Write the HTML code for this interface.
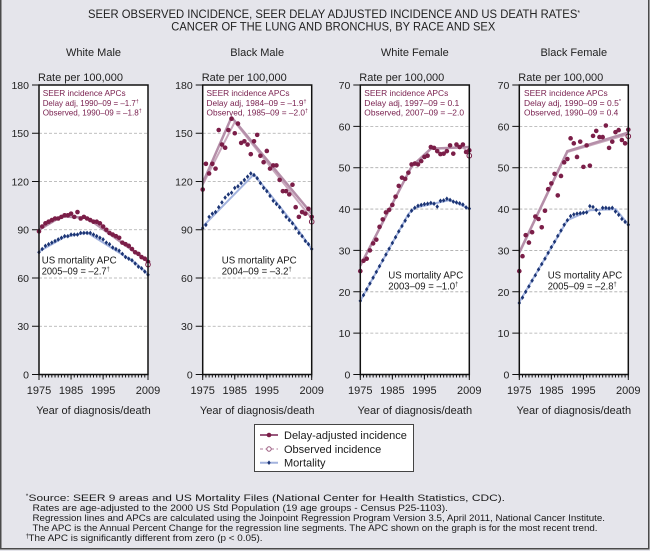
<!DOCTYPE html>
<html><head><meta charset="utf-8">
<style>
html,body{margin:0;padding:0;background:#e5e5eb;}
svg{display:block;font-family:"Liberation Sans",Arial,sans-serif;}
</style></head><body>
<svg width="650" height="551" viewBox="0 0 650 551" xmlns="http://www.w3.org/2000/svg" xmlns:xlink="http://www.w3.org/1999/xlink">
<defs>
 <ellipse id="dM" rx="0.72" ry="1.43" fill="#7b1e48"/>
 <ellipse id="dF" rx="0.72" ry="0.556" fill="#7b1e48"/>
 <polygon id="mM" points="0,1.43 0.55,0 0,-1.43 -0.55,0" fill="#1c3575"/>
 <polygon id="mF" points="0,0.556 0.55,0 0,-0.556 -0.55,0" fill="#1c3575"/>
</defs>
<rect width="650" height="551" fill="#e5e5eb"/>
<rect x="0.75" y="-5" width="648" height="553.75" fill="none" stroke="#4a4a4a" stroke-width="1.5"/>

<!-- Title -->
<g fill="#222" font-size="11.5">
<text x="88" y="18" textLength="492" lengthAdjust="spacingAndGlyphs">SEER OBSERVED INCIDENCE, SEER DELAY ADJUSTED INCIDENCE AND US DEATH RATES<tspan font-size="7" dy="-3">*</tspan></text>
<text x="171.3" y="30.5" textLength="324" lengthAdjust="spacingAndGlyphs">CANCER OF THE LUNG AND BRONCHUS, BY RACE AND SEX</text>
</g>

<!-- Panel titles and axis labels -->
<g fill="#222" font-size="11" text-anchor="middle">
<text x="93.5" y="56">White Male</text>
<text x="257.2" y="56">Black Male</text>
<text x="414.8" y="56">White Female</text>
<text x="573.8" y="56">Black Female</text>
<text x="93.5" y="414">Year of diagnosis/death</text>
<text x="257.2" y="414">Year of diagnosis/death</text>
<text x="414.8" y="414">Year of diagnosis/death</text>
<text x="573.8" y="414">Year of diagnosis/death</text>
</g>
<g fill="#222" font-size="11">
<text x="38" y="81" textLength="85" lengthAdjust="spacingAndGlyphs">Rate per 100,000</text>
<text x="201.7" y="81" textLength="85" lengthAdjust="spacingAndGlyphs">Rate per 100,000</text>
<text x="359.3" y="81" textLength="85" lengthAdjust="spacingAndGlyphs">Rate per 100,000</text>
<text x="518.3" y="81" textLength="85" lengthAdjust="spacingAndGlyphs">Rate per 100,000</text>
</g>

<!-- Plot boxes background -->
<g fill="#fff">
<rect x="39" y="85" width="109" height="289.5"/>
<rect x="202.7" y="85" width="109" height="289.5"/>
<rect x="360.3" y="85" width="109" height="289.5"/>
<rect x="519.3" y="85" width="109" height="289.5"/>
</g>

<!-- Gridlines -->
<g stroke="#ababab" stroke-width="0.8" stroke-dasharray="3,2">
<path d="M39 133.25H148 M39 181.5H148 M39 229.75H148 M39 278H148 M39 326.25H148"/>
<path d="M202.7 133.25H311.7 M202.7 181.5H311.7 M202.7 229.75H311.7 M202.7 278H311.7 M202.7 326.25H311.7"/>
<path d="M360.3 126.36H469.3 M360.3 167.71H469.3 M360.3 209.07H469.3 M360.3 250.43H469.3 M360.3 291.79H469.3 M360.3 333.14H469.3"/>
<path d="M519.3 126.36H628.3 M519.3 167.71H628.3 M519.3 209.07H628.3 M519.3 250.43H628.3 M519.3 291.79H628.3 M519.3 333.14H628.3"/>
</g>

<!-- Y ticks -->
<g stroke="#111" stroke-width="1">
<path d="M32 85H39M32 133.25H39M32 181.5H39M32 229.75H39M32 278H39M32 326.25H39M32 374.5H39"/>
<path d="M195.7 85H202.7M195.7 133.25H202.7M195.7 181.5H202.7M195.7 229.75H202.7M195.7 278H202.7M195.7 326.25H202.7M195.7 374.5H202.7"/>
<path d="M353.3 85H360.3M353.3 126.36H360.3M353.3 167.71H360.3M353.3 209.07H360.3M353.3 250.43H360.3M353.3 291.79H360.3M353.3 333.14H360.3M353.3 374.5H360.3"/>
<path d="M512.3 85H519.3M512.3 126.36H519.3M512.3 167.71H519.3M512.3 209.07H519.3M512.3 250.43H519.3M512.3 291.79H519.3M512.3 333.14H519.3M512.3 374.5H519.3"/>
</g>

<!-- Y tick labels -->
<g fill="#222" font-size="10.5" text-anchor="end">
<text x="29" y="89">180</text><text x="29" y="137.2">150</text><text x="29" y="185.5">120</text><text x="29" y="233.7">90</text><text x="29" y="282">60</text><text x="29" y="330.2">30</text><text x="29" y="378.5">0</text>
<text x="192.7" y="89">180</text><text x="192.7" y="137.2">150</text><text x="192.7" y="185.5">120</text><text x="192.7" y="233.7">90</text><text x="192.7" y="282">60</text><text x="192.7" y="330.2">30</text><text x="192.7" y="378.5">0</text>
<text x="350.3" y="89">70</text><text x="350.3" y="130.4">60</text><text x="350.3" y="171.7">50</text><text x="350.3" y="213">40</text><text x="350.3" y="254.4">30</text><text x="350.3" y="295.8">20</text><text x="350.3" y="337.1">10</text><text x="350.3" y="378.5">0</text>
<text x="509.3" y="89">70</text><text x="509.3" y="130.4">60</text><text x="509.3" y="171.7">50</text><text x="509.3" y="213">40</text><text x="509.3" y="254.4">30</text><text x="509.3" y="295.8">20</text><text x="509.3" y="337.1">10</text><text x="509.3" y="378.5">0</text>
</g>

<!-- X minor ticks -->
<g stroke="#111" stroke-width="3" stroke-dasharray="1 2.206">
<line x1="38.5" y1="376" x2="148.5" y2="376"/>
<line x1="202.2" y1="376" x2="312.2" y2="376"/>
<line x1="359.8" y1="376" x2="469.8" y2="376"/>
<line x1="518.8" y1="376" x2="628.8" y2="376"/>
</g>
<g stroke="#111" stroke-width="1">
<path d="M39 374.5V380M71.06 374.5V379.5M103.12 374.5V379.5M148 374.5V380"/>
<path d="M202.7 374.5V380M234.76 374.5V379.5M266.82 374.5V379.5M311.7 374.5V380"/>
<path d="M360.3 374.5V380M392.36 374.5V379.5M424.42 374.5V379.5M469.3 374.5V380"/>
<path d="M519.3 374.5V380M551.36 374.5V379.5M583.42 374.5V379.5M628.3 374.5V380"/>
</g>
<g fill="#222" font-size="11" text-anchor="middle">
<text x="39" y="394">1975</text><text x="71.06" y="394">1985</text><text x="103.12" y="394">1995</text><text x="148" y="394">2009</text>
<text x="202.7" y="394">1975</text><text x="234.76" y="394">1985</text><text x="266.82" y="394">1995</text><text x="311.7" y="394">2009</text>
<text x="360.3" y="394">1975</text><text x="392.36" y="394">1985</text><text x="424.42" y="394">1995</text><text x="469.3" y="394">2009</text>
<text x="519.3" y="394">1975</text><text x="551.36" y="394">1985</text><text x="583.42" y="394">1995</text><text x="628.3" y="394">2009</text>
</g>

<!-- ===== White Male data ===== -->
<g transform="translate(39,374.5) scale(3.206,-1.6083)">
<polyline points="0,76.5 8,85.5 15,88.3 30,69.5 34,62.3" fill="none" stroke="#a3b3de" stroke-width="2" vector-effect="non-scaling-stroke"/>
<use xlink:href="#mM" x="0" y="76"/><use xlink:href="#mM" x="1" y="78"/><use xlink:href="#mM" x="2" y="80"/><use xlink:href="#mM" x="3" y="81"/><use xlink:href="#mM" x="4" y="82"/><use xlink:href="#mM" x="5" y="83"/><use xlink:href="#mM" x="6" y="84"/><use xlink:href="#mM" x="7" y="85"/><use xlink:href="#mM" x="8" y="86"/><use xlink:href="#mM" x="9" y="86"/><use xlink:href="#mM" x="10" y="87"/><use xlink:href="#mM" x="11" y="87"/><use xlink:href="#mM" x="12" y="87"/><use xlink:href="#mM" x="13" y="88"/><use xlink:href="#mM" x="14" y="88"/><use xlink:href="#mM" x="15" y="88"/><use xlink:href="#mM" x="16" y="88"/><use xlink:href="#mM" x="17" y="87"/><use xlink:href="#mM" x="18" y="86"/><use xlink:href="#mM" x="19" y="85"/><use xlink:href="#mM" x="20" y="84"/><use xlink:href="#mM" x="21" y="82"/><use xlink:href="#mM" x="22" y="81"/><use xlink:href="#mM" x="23" y="79"/><use xlink:href="#mM" x="24" y="78"/><use xlink:href="#mM" x="25" y="77"/><use xlink:href="#mM" x="26" y="75"/><use xlink:href="#mM" x="27" y="73"/><use xlink:href="#mM" x="28" y="72"/><use xlink:href="#mM" x="29" y="71"/><use xlink:href="#mM" x="30" y="69"/><use xlink:href="#mM" x="31" y="67"/><use xlink:href="#mM" x="32" y="66"/><use xlink:href="#mM" x="33" y="64"/><use xlink:href="#mM" x="34" y="62"/>
<polyline points="0,90 7,98.3 15,97.5 34,70.3" fill="none" stroke="#b58fa9" stroke-width="2.5" vector-effect="non-scaling-stroke"/>
<use xlink:href="#dM" x="0" y="89"/><use xlink:href="#dM" x="1" y="92"/><use xlink:href="#dM" x="2" y="94"/><use xlink:href="#dM" x="3" y="95"/><use xlink:href="#dM" x="4" y="96"/><use xlink:href="#dM" x="5" y="97"/><use xlink:href="#dM" x="6" y="97"/><use xlink:href="#dM" x="7" y="98"/><use xlink:href="#dM" x="8" y="99"/><use xlink:href="#dM" x="9" y="99"/><use xlink:href="#dM" x="10" y="100"/><use xlink:href="#dM" x="11" y="98"/><use xlink:href="#dM" x="12" y="101"/><use xlink:href="#dM" x="13" y="97"/><use xlink:href="#dM" x="14" y="98"/><use xlink:href="#dM" x="15" y="97"/><use xlink:href="#dM" x="16" y="96"/><use xlink:href="#dM" x="17" y="95"/><use xlink:href="#dM" x="18" y="95"/><use xlink:href="#dM" x="19" y="94"/><use xlink:href="#dM" x="20" y="92"/><use xlink:href="#dM" x="21" y="90"/><use xlink:href="#dM" x="22" y="88"/><use xlink:href="#dM" x="23" y="87"/><use xlink:href="#dM" x="24" y="86"/><use xlink:href="#dM" x="25" y="85"/><use xlink:href="#dM" x="26" y="82"/><use xlink:href="#dM" x="27" y="81"/><use xlink:href="#dM" x="28" y="80"/><use xlink:href="#dM" x="29" y="78"/><use xlink:href="#dM" x="30" y="76"/><use xlink:href="#dM" x="31" y="75"/><use xlink:href="#dM" x="32" y="73"/><use xlink:href="#dM" x="33" y="72"/><use xlink:href="#dM" x="34" y="70"/>
<ellipse cx="34" cy="68.3" rx="0.72" ry="1.43" fill="#fff" stroke="#7b1e48" stroke-width="1" vector-effect="non-scaling-stroke"/>
</g>

<!-- ===== Black Male data ===== -->
<g transform="translate(202.7,374.5) scale(3.206,-1.6083)">
<polyline points="0,92 16,124.5 29,92 34,78" fill="none" stroke="#a3b3de" stroke-width="2" vector-effect="non-scaling-stroke"/>
<use xlink:href="#mM" x="0" y="91"/><use xlink:href="#mM" x="1" y="93"/><use xlink:href="#mM" x="2" y="98"/><use xlink:href="#mM" x="3" y="100"/><use xlink:href="#mM" x="4" y="101"/><use xlink:href="#mM" x="5" y="104"/><use xlink:href="#mM" x="6" y="107"/><use xlink:href="#mM" x="7" y="110"/><use xlink:href="#mM" x="8" y="112"/><use xlink:href="#mM" x="9" y="113"/><use xlink:href="#mM" x="10" y="116"/><use xlink:href="#mM" x="11" y="117"/><use xlink:href="#mM" x="12" y="119"/><use xlink:href="#mM" x="13" y="121"/><use xlink:href="#mM" x="14" y="123"/><use xlink:href="#mM" x="15" y="125"/><use xlink:href="#mM" x="16" y="124"/><use xlink:href="#mM" x="17" y="122"/><use xlink:href="#mM" x="18" y="119"/><use xlink:href="#mM" x="19" y="116"/><use xlink:href="#mM" x="20" y="114"/><use xlink:href="#mM" x="21" y="111"/><use xlink:href="#mM" x="22" y="108"/><use xlink:href="#mM" x="23" y="106"/><use xlink:href="#mM" x="24" y="104"/><use xlink:href="#mM" x="25" y="101"/><use xlink:href="#mM" x="26" y="98"/><use xlink:href="#mM" x="27" y="96"/><use xlink:href="#mM" x="28" y="94"/><use xlink:href="#mM" x="29" y="91"/><use xlink:href="#mM" x="30" y="88"/><use xlink:href="#mM" x="31" y="86"/><use xlink:href="#mM" x="32" y="83"/><use xlink:href="#mM" x="33" y="81"/><use xlink:href="#mM" x="34" y="78"/>
<polyline points="0,118 10,157 34,97" fill="none" stroke="#c9a9bd" stroke-width="2" vector-effect="non-scaling-stroke"/>
<polyline points="0,119 9,160 34,100" fill="none" stroke="#b58fa9" stroke-width="2.5" vector-effect="non-scaling-stroke"/>
<use xlink:href="#dM" x="0" y="115"/><use xlink:href="#dM" x="1" y="131"/><use xlink:href="#dM" x="2" y="125"/><use xlink:href="#dM" x="3" y="131"/><use xlink:href="#dM" x="4" y="128"/><use xlink:href="#dM" x="5" y="152"/><use xlink:href="#dM" x="6" y="143"/><use xlink:href="#dM" x="7" y="141"/><use xlink:href="#dM" x="8" y="152"/><use xlink:href="#dM" x="9" y="159"/><use xlink:href="#dM" x="10" y="150"/><use xlink:href="#dM" x="11" y="156"/><use xlink:href="#dM" x="12" y="144"/><use xlink:href="#dM" x="13" y="145"/><use xlink:href="#dM" x="14" y="143"/><use xlink:href="#dM" x="15" y="137"/><use xlink:href="#dM" x="16" y="145"/><use xlink:href="#dM" x="17" y="149"/><use xlink:href="#dM" x="18" y="136"/><use xlink:href="#dM" x="19" y="132"/><use xlink:href="#dM" x="20" y="139"/><use xlink:href="#dM" x="21" y="128"/><use xlink:href="#dM" x="22" y="130"/><use xlink:href="#dM" x="23" y="130"/><use xlink:href="#dM" x="24" y="121"/><use xlink:href="#dM" x="25" y="114"/><use xlink:href="#dM" x="26" y="114"/><use xlink:href="#dM" x="27" y="112"/><use xlink:href="#dM" x="28" y="118"/><use xlink:href="#dM" x="29" y="104"/><use xlink:href="#dM" x="30" y="98"/><use xlink:href="#dM" x="31" y="101"/><use xlink:href="#dM" x="32" y="100"/><use xlink:href="#dM" x="33" y="103"/><use xlink:href="#dM" x="34" y="98"/>
<ellipse cx="34" cy="95" rx="0.72" ry="1.43" fill="#fff" stroke="#7b1e48" stroke-width="1" vector-effect="non-scaling-stroke"/>
</g>

<!-- ===== White Female data ===== -->
<g transform="translate(360.3,374.5) scale(3.206,-4.1357)">
<polyline points="0,17.8 15,38.8 17,40.3 28,42.2 34,40.1" fill="none" stroke="#a3b3de" stroke-width="2" vector-effect="non-scaling-stroke"/>
<use xlink:href="#mF" x="0" y="17.8"/><use xlink:href="#mF" x="1" y="19.2"/><use xlink:href="#mF" x="2" y="20.6"/><use xlink:href="#mF" x="3" y="22"/><use xlink:href="#mF" x="4" y="23.4"/><use xlink:href="#mF" x="5" y="24.8"/><use xlink:href="#mF" x="6" y="26.2"/><use xlink:href="#mF" x="7" y="27.6"/><use xlink:href="#mF" x="8" y="29"/><use xlink:href="#mF" x="9" y="30.4"/><use xlink:href="#mF" x="10" y="31.8"/><use xlink:href="#mF" x="11" y="33.2"/><use xlink:href="#mF" x="12" y="34.6"/><use xlink:href="#mF" x="13" y="35.9"/><use xlink:href="#mF" x="14" y="37.2"/><use xlink:href="#mF" x="15" y="38.4"/><use xlink:href="#mF" x="16" y="39.6"/><use xlink:href="#mF" x="17" y="40.3"/><use xlink:href="#mF" x="18" y="40.8"/><use xlink:href="#mF" x="19" y="41"/><use xlink:href="#mF" x="20" y="41.2"/><use xlink:href="#mF" x="21" y="41.3"/><use xlink:href="#mF" x="22" y="41.5"/><use xlink:href="#mF" x="23" y="41.3"/><use xlink:href="#mF" x="24" y="40.6"/><use xlink:href="#mF" x="25" y="42"/><use xlink:href="#mF" x="26" y="42.1"/><use xlink:href="#mF" x="27" y="42.5"/><use xlink:href="#mF" x="28" y="42.2"/><use xlink:href="#mF" x="29" y="41.8"/><use xlink:href="#mF" x="30" y="41.6"/><use xlink:href="#mF" x="31" y="41.4"/><use xlink:href="#mF" x="32" y="41.1"/><use xlink:href="#mF" x="33" y="40.4"/><use xlink:href="#mF" x="34" y="40.1"/>
<polyline points="0,26.3 16,50.3 22,54.5 32,55 34,53.3" fill="none" stroke="#c9a9bd" stroke-width="2" vector-effect="non-scaling-stroke"/>
<polyline points="0,26.3 16,50.3 22,54.6 34,55" fill="none" stroke="#b58fa9" stroke-width="2.5" vector-effect="non-scaling-stroke"/>
<use xlink:href="#dF" x="0" y="25"/><use xlink:href="#dF" x="1" y="27.5"/><use xlink:href="#dF" x="2" y="28"/><use xlink:href="#dF" x="3" y="30"/><use xlink:href="#dF" x="4" y="31.7"/><use xlink:href="#dF" x="5" y="32.6"/><use xlink:href="#dF" x="6" y="35.7"/><use xlink:href="#dF" x="7" y="37.5"/><use xlink:href="#dF" x="8" y="39.2"/><use xlink:href="#dF" x="9" y="39.8"/><use xlink:href="#dF" x="10" y="41"/><use xlink:href="#dF" x="11" y="43"/><use xlink:href="#dF" x="12" y="45.6"/><use xlink:href="#dF" x="13" y="47.6"/><use xlink:href="#dF" x="14" y="47.3"/><use xlink:href="#dF" x="15" y="48.8"/><use xlink:href="#dF" x="16" y="50.8"/><use xlink:href="#dF" x="17" y="51"/><use xlink:href="#dF" x="18" y="50.8"/><use xlink:href="#dF" x="19" y="51.6"/><use xlink:href="#dF" x="20" y="52.6"/><use xlink:href="#dF" x="21" y="52.9"/><use xlink:href="#dF" x="22" y="55"/><use xlink:href="#dF" x="23" y="54.8"/><use xlink:href="#dF" x="24" y="54"/><use xlink:href="#dF" x="25" y="53.3"/><use xlink:href="#dF" x="26" y="53.4"/><use xlink:href="#dF" x="27" y="54"/><use xlink:href="#dF" x="28" y="55.4"/><use xlink:href="#dF" x="29" y="53.4"/><use xlink:href="#dF" x="30" y="55.6"/><use xlink:href="#dF" x="31" y="55"/><use xlink:href="#dF" x="32" y="55.6"/><use xlink:href="#dF" x="33" y="53.8"/><use xlink:href="#dF" x="34" y="54.2"/>
<ellipse cx="34" cy="52.9" rx="0.72" ry="0.556" fill="#fff" stroke="#7b1e48" stroke-width="1" vector-effect="non-scaling-stroke"/>
</g>

<!-- ===== Black Female data ===== -->
<g transform="translate(519.3,374.5) scale(3.206,-4.1357)">
<polyline points="0,17.5 15,37.3 22,39.7 30,40 34,36.3" fill="none" stroke="#a3b3de" stroke-width="2" vector-effect="non-scaling-stroke"/>
<use xlink:href="#mF" x="0" y="17.3"/><use xlink:href="#mF" x="1" y="18.6"/><use xlink:href="#mF" x="2" y="20"/><use xlink:href="#mF" x="3" y="21.3"/><use xlink:href="#mF" x="4" y="22.7"/><use xlink:href="#mF" x="5" y="24"/><use xlink:href="#mF" x="6" y="25.4"/><use xlink:href="#mF" x="7" y="26.7"/><use xlink:href="#mF" x="8" y="28"/><use xlink:href="#mF" x="9" y="29.4"/><use xlink:href="#mF" x="10" y="30.8"/><use xlink:href="#mF" x="11" y="32.1"/><use xlink:href="#mF" x="12" y="33.5"/><use xlink:href="#mF" x="13" y="34.8"/><use xlink:href="#mF" x="14" y="36.2"/><use xlink:href="#mF" x="15" y="37.3"/><use xlink:href="#mF" x="16" y="38.3"/><use xlink:href="#mF" x="17" y="38.7"/><use xlink:href="#mF" x="18" y="38.9"/><use xlink:href="#mF" x="19" y="39"/><use xlink:href="#mF" x="20" y="39.1"/><use xlink:href="#mF" x="21" y="39.2"/><use xlink:href="#mF" x="22" y="40.7"/><use xlink:href="#mF" x="23" y="40.5"/><use xlink:href="#mF" x="24" y="39.8"/><use xlink:href="#mF" x="25" y="38.9"/><use xlink:href="#mF" x="26" y="40.3"/><use xlink:href="#mF" x="27" y="40.3"/><use xlink:href="#mF" x="28" y="40.2"/><use xlink:href="#mF" x="29" y="40.3"/><use xlink:href="#mF" x="30" y="39.4"/><use xlink:href="#mF" x="31" y="38.6"/><use xlink:href="#mF" x="32" y="37.6"/><use xlink:href="#mF" x="33" y="36.9"/><use xlink:href="#mF" x="34" y="36.2"/>
<polyline points="0,29.3 15,53.8 34,58.1" fill="none" stroke="#c9a9bd" stroke-width="2" vector-effect="non-scaling-stroke"/>
<polyline points="0,29.5 15,54 34,58.5" fill="none" stroke="#b58fa9" stroke-width="2.5" vector-effect="non-scaling-stroke"/>
<use xlink:href="#dF" x="0" y="25"/><use xlink:href="#dF" x="1" y="28.6"/><use xlink:href="#dF" x="2" y="33.7"/><use xlink:href="#dF" x="3" y="31.9"/><use xlink:href="#dF" x="4" y="34.4"/><use xlink:href="#dF" x="5" y="38.2"/><use xlink:href="#dF" x="6" y="37.6"/><use xlink:href="#dF" x="7" y="35.6"/><use xlink:href="#dF" x="8" y="39.6"/><use xlink:href="#dF" x="9" y="44.8"/><use xlink:href="#dF" x="10" y="46.2"/><use xlink:href="#dF" x="11" y="48.5"/><use xlink:href="#dF" x="12" y="43.3"/><use xlink:href="#dF" x="13" y="48"/><use xlink:href="#dF" x="14" y="51.3"/><use xlink:href="#dF" x="15" y="52.1"/><use xlink:href="#dF" x="16" y="57.1"/><use xlink:href="#dF" x="17" y="55.9"/><use xlink:href="#dF" x="18" y="52.6"/><use xlink:href="#dF" x="19" y="56.3"/><use xlink:href="#dF" x="20" y="50.2"/><use xlink:href="#dF" x="21" y="55.4"/><use xlink:href="#dF" x="22" y="50.5"/><use xlink:href="#dF" x="23" y="57.7"/><use xlink:href="#dF" x="24" y="58.9"/><use xlink:href="#dF" x="25" y="57.4"/><use xlink:href="#dF" x="26" y="57.4"/><use xlink:href="#dF" x="27" y="60.2"/><use xlink:href="#dF" x="28" y="54.8"/><use xlink:href="#dF" x="29" y="56.3"/><use xlink:href="#dF" x="30" y="58.6"/><use xlink:href="#dF" x="31" y="59.1"/><use xlink:href="#dF" x="32" y="56.7"/><use xlink:href="#dF" x="33" y="55.9"/><use xlink:href="#dF" x="34" y="59.2"/>
<ellipse cx="34" cy="57.6" rx="0.72" ry="0.556" fill="#fff" stroke="#7b1e48" stroke-width="1" vector-effect="non-scaling-stroke"/>
</g>

<!-- Box outlines -->
<g fill="none" stroke="#111" stroke-width="1.5">
<rect x="39" y="85" width="109" height="289.5"/>
<rect x="202.7" y="85" width="109" height="289.5"/>
<rect x="360.3" y="85" width="109" height="289.5"/>
<rect x="519.3" y="85" width="109" height="289.5"/>
</g>

<!-- SEER annotations -->
<g fill="#7a2250" font-size="8.5">
<text x="42.7" y="96" textLength="83" lengthAdjust="spacingAndGlyphs">SEER incidence APCs</text>
<text x="42.7" y="105.8" textLength="96" lengthAdjust="spacingAndGlyphs">Delay adj, 1990–09 = –1.7<tspan font-size="5.5" dy="-3">†</tspan></text>
<text x="42.7" y="115.5" textLength="99" lengthAdjust="spacingAndGlyphs">Observed, 1990–09 = –1.8<tspan font-size="5.5" dy="-3">†</tspan></text>
<text x="206.5" y="96" textLength="83" lengthAdjust="spacingAndGlyphs">SEER incidence APCs</text>
<text x="206.5" y="105.8" textLength="100" lengthAdjust="spacingAndGlyphs">Delay adj, 1984–09 = –1.9<tspan font-size="5.5" dy="-3">†</tspan></text>
<text x="206.5" y="115.5" textLength="101.5" lengthAdjust="spacingAndGlyphs">Observed, 1985–09 = –2.0<tspan font-size="5.5" dy="-3">†</tspan></text>
<text x="364.3" y="96" textLength="84" lengthAdjust="spacingAndGlyphs">SEER incidence APCs</text>
<text x="364.3" y="105.8" textLength="95" lengthAdjust="spacingAndGlyphs">Delay adj, 1997–09 = 0.1</text>
<text x="364.3" y="115.5" textLength="99.7" lengthAdjust="spacingAndGlyphs">Observed, 2007–09 = –2.0</text>
<text x="524" y="96" textLength="83.7" lengthAdjust="spacingAndGlyphs">SEER incidence APCs</text>
<text x="524" y="105.8" textLength="97" lengthAdjust="spacingAndGlyphs">Delay adj, 1990–09 = 0.5<tspan font-size="5.5" dy="-3">*</tspan></text>
<text x="524" y="115.5" textLength="94.3" lengthAdjust="spacingAndGlyphs">Observed, 1990–09 = 0.4</text>
</g>

<!-- US mortality annotations -->
<g fill="#1a1a1a" font-size="10">
<text x="41.7" y="263.6" textLength="75" lengthAdjust="spacingAndGlyphs">US mortality APC</text>
<text x="41.7" y="274.3" textLength="68" lengthAdjust="spacingAndGlyphs">2005–09 = –2.7<tspan font-size="6" dy="-3.5">†</tspan></text>
<text x="221.7" y="263.6" textLength="75" lengthAdjust="spacingAndGlyphs">US mortality APC</text>
<text x="221.7" y="274.3" textLength="70" lengthAdjust="spacingAndGlyphs">2004–09 = –3.2<tspan font-size="6" dy="-3.5">†</tspan></text>
<text x="388.3" y="278.6" textLength="75" lengthAdjust="spacingAndGlyphs">US mortality APC</text>
<text x="388.3" y="289.3" textLength="70" lengthAdjust="spacingAndGlyphs">2003–09 = –1.0<tspan font-size="6" dy="-3.5">†</tspan></text>
<text x="547.7" y="278.6" textLength="74.6" lengthAdjust="spacingAndGlyphs">US mortality APC</text>
<text x="547.7" y="289.3" textLength="69" lengthAdjust="spacingAndGlyphs">2005–09 = –2.8<tspan font-size="6" dy="-3.5">†</tspan></text>
</g>

<!-- Legend -->
<rect x="254.5" y="424.5" width="159" height="47" fill="#fff" stroke="#444" stroke-width="1"/>
<line x1="260" y1="435" x2="278" y2="435" stroke="#9a5a7e" stroke-width="2"/>
<circle cx="269" cy="435" r="2.3" fill="#7b1e48"/>
<line x1="260" y1="449" x2="278" y2="449" stroke="#c8a6bb" stroke-width="1.5" stroke-dasharray="3,2.5"/>
<circle cx="269" cy="449" r="2.2" fill="#fff" stroke="#9a5a7e" stroke-width="1"/>
<line x1="260" y1="462.7" x2="278" y2="462.7" stroke="#a3b3de" stroke-width="2"/>
<polygon points="269,460.4 270.7,462.7 269,465 267.3,462.7" fill="#1c3575"/>
<g fill="#1a1a1a" font-size="11">
<text x="284" y="439">Delay-adjusted incidence</text>
<text x="284" y="453">Observed incidence</text>
<text x="284" y="466.7">Mortality</text>
</g>

<!-- Footnotes -->
<g fill="#1a1a1a" font-size="9">
<text x="25.8" y="498" font-size="6.5">*</text>
<text x="28.5" y="501" textLength="476.5" lengthAdjust="spacingAndGlyphs">Source: SEER 9 areas and US Mortality Files (National Center for Health Statistics, CDC).</text>
<text x="32.5" y="511" textLength="415.5" lengthAdjust="spacingAndGlyphs">Rates are age-adjusted to the 2000 US Std Population (19 age groups - Census P25-1103).</text>
<text x="32.5" y="521" textLength="572.5" lengthAdjust="spacingAndGlyphs">Regression lines and APCs are calculated using the Joinpoint Regression Program Version 3.5, April 2011, National Cancer Institute.</text>
<text x="32.5" y="531" textLength="565" lengthAdjust="spacingAndGlyphs">The APC is the Annual Percent Change for the regression line segments. The APC shown on the graph is for the most recent trend.</text>
<text x="25.5" y="538" font-size="6.5">†</text>
<text x="28.5" y="541" textLength="234" lengthAdjust="spacingAndGlyphs">The APC is significantly different from zero (p &lt; 0.05).</text>
</g>
</svg>
</body></html>
